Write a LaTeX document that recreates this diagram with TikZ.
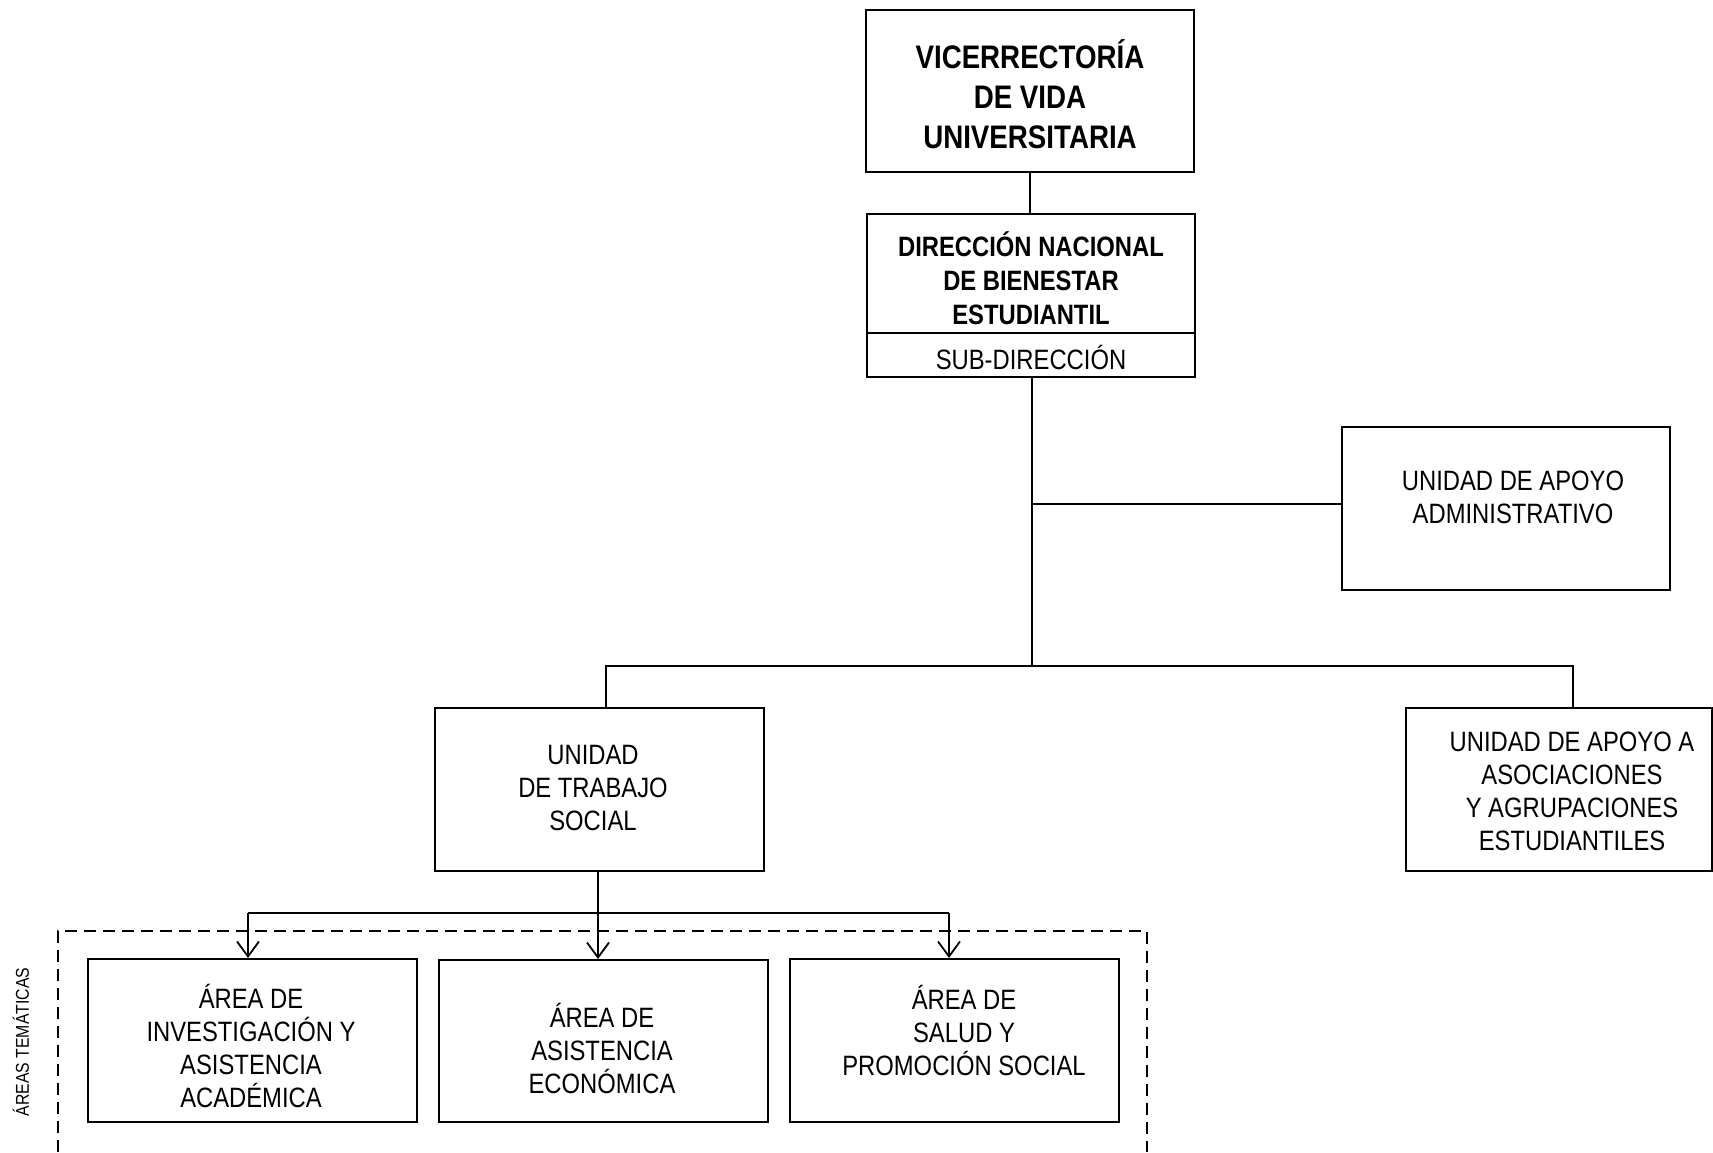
\documentclass[tikz,border=0pt]{standalone}
\usepackage{fontspec}
\setmainfont{Liberation Sans}[FakeStretch=0.85]
\usetikzlibrary{arrows.meta,calc}
\begin{document}
\begin{tikzpicture}[x=0.5pt,y=-0.5pt,
  box/.style={draw, line width=1pt, rectangle, inner sep=0pt},
  conn/.style={line width=0.9pt},
  arr/.style={conn, -{Straight Barb[length=7.5pt,width=11pt,line width=0.9pt]}},
  txt/.style={align=center, inner sep=0pt, font=\fontsize{14pt}{16.5pt}\selectfont},
  btxt/.style={align=center, inner sep=0pt, font=\bfseries\fontsize{14pt}{17pt}\selectfont},
  dashbox/.style={line width=0.8pt, dash pattern=on 6pt off 3.5pt},
]
\useasboundingbox (0,0) rectangle (1713,1152);

% boxes
\node[box, minimum width=164pt, minimum height=81pt] (vice) at (1030,91) {};
\node[box, minimum width=164pt, minimum height=81.5pt] (dir) at (1031,295.5) {};
\node[box, minimum width=164pt, minimum height=81.5pt] (admin) at (1506,508.5) {};
\node[box, minimum width=164.5pt, minimum height=81.5pt] (trab) at (599.5,789.5) {};
\node[box, minimum width=153pt, minimum height=81.5pt] (asoc) at (1559,789.5) {};
\node[box, minimum width=164.5pt, minimum height=81.5pt] (b1) at (252.5,1040.5) {};
\node[box, minimum width=164.5pt, minimum height=81pt] (b2) at (603.5,1041) {};
\node[box, minimum width=164.5pt, minimum height=81.5pt] (b3) at (954.5,1040.5) {};

% divider in direccion box
\coordinate (dv) at (0,333);
\draw[conn] (dir.west |- dv) -- (dir.east |- dv);

% texts
\node[btxt, font=\bfseries\fontsize{16.3pt}{20pt}\selectfont] (vicet) at (1030,94) {VICERRECTORÍA\\DE VIDA\\UNIVERSITARIA};
\node[btxt] (dirt) at (1031,278.5) {DIRECCIÓN NACIONAL\\DE BIENESTAR\\ESTUDIANTIL};
\node[txt] (subt) at (1031,357) {SUB-DIRECCIÓN};
\node[txt] (admint) at (1513,497) {UNIDAD DE APOYO\\ADMINISTRATIVO};
\node[txt] (trabt) at (593,788) {UNIDAD\\DE TRABAJO\\SOCIAL};
\node[txt] (asoct) at (1572,791) {UNIDAD DE APOYO A\\ASOCIACIONES\\ Y AGRUPACIONES\\ESTUDIANTILES};
\node[txt] (b1t) at (251,1046) {ÁREA DE\\INVESTIGACIÓN Y\\ASISTENCIA\\ACADÉMICA};
\node[txt] (b2t) at (602,1048) {ÁREA DE\\ASISTENCIA\\ECONÓMICA};
\node[txt] (b3t) at (964,1030) {ÁREA DE\\SALUD Y\\PROMOCIÓN SOCIAL};

% connectors
\draw[conn] (vice.south) -- (vice.south |- dir.north);
\coordinate (j1) at (1032,504);
\coordinate (j2) at (1032,666);
\draw[conn] (dir.south -| j2) -- (j2);
\draw[conn] (j1) -- (j1 -| admin.west);
\coordinate (tt) at ($(trab.north)+(6.5,0)$);
\coordinate (at) at (1573,708);
\draw[conn] (tt) |- (j2) -| (at);

\coordinate (h) at (598,913);
\coordinate (a1) at (248,913);
\coordinate (a3) at (949,913);
\draw[conn] (trab.south -| h) -- (h);
\draw[conn] (a1) -- (a3);
\draw[arr] (a1) -- (a1 |- b1.north);
\draw[arr] (h) -- (h |- b2.north);
\draw[arr] (a3) -- (a3 |- b3.north);

% dashed frame
\draw[dashbox] (58,1152) |- (1147,931) -- (1147,1152);
\node[rotate=90, inner sep=0pt, font=\fontsize{9.3pt}{11pt}\selectfont] (areas) at (21,1042) {ÁREAS TEMÁTICAS};
\end{tikzpicture}
\end{document}
